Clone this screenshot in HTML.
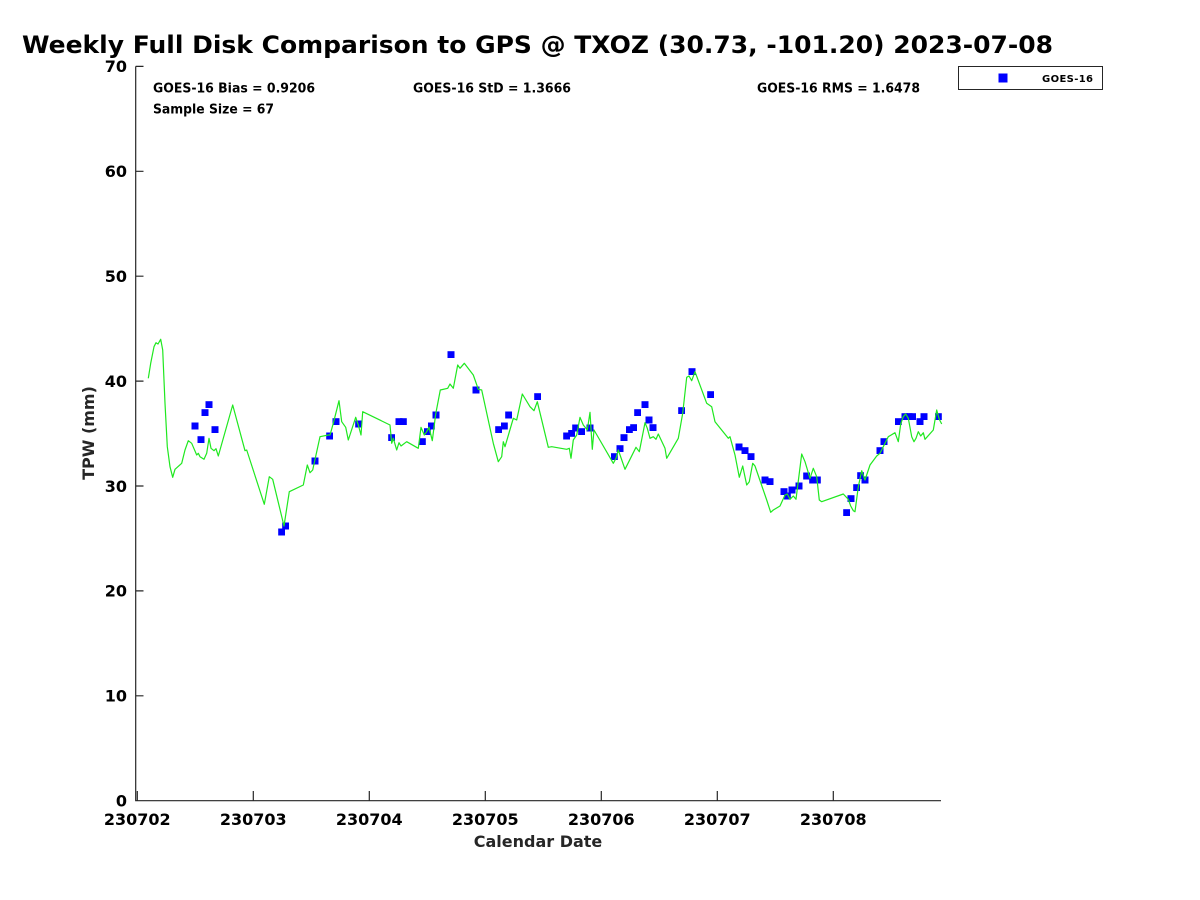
<!DOCTYPE html>
<html><head><meta charset="utf-8"><style>
html,body{margin:0;padding:0;background:#fff;}
svg{display:block;}
text{font-family:"DejaVu Sans","Liberation Sans",sans-serif;font-weight:bold;fill:#000;}
.tk{font-size:16px;fill:#262626;}
</style></head><body>
<svg width="1200" height="900" viewBox="0 0 1200 900" xmlns="http://www.w3.org/2000/svg">
<defs>
<marker id="sq" viewBox="0 0 7 7" refX="3.5" refY="3.5" markerWidth="7" markerHeight="7" markerUnits="userSpaceOnUse"><rect width="7" height="7" fill="#0000ff"/></marker>
</defs>
<rect width="1200" height="900" fill="#fff"/>
<text x="22" y="53" font-size="24" textLength="1031" lengthAdjust="spacingAndGlyphs">Weekly Full Disk Comparison to GPS @ TXOZ (30.73, -101.20) 2023-07-08</text>
<path fill="none" stroke="#262626" stroke-width="1.2" d="M135.7 66.4V800.7M135.1 800.7H941M135.7 695.8h7.8M135.7 590.9h7.8M135.7 486h7.8M135.7 381.1h7.8M135.7 276.2h7.8M135.7 171.3h7.8M135.7 66.4h7.8M137.3 800.7v-9.7M253.3 800.7v-9.7M369.3 800.7v-9.7M485.3 800.7v-9.7M601.3 800.7v-9.7M717.3 800.7v-9.7M833.3 800.7v-9.7"/>
<g class="tk" text-anchor="end">
<text x="127" y="806.5">0</text>
<text x="127" y="701.6">10</text>
<text x="127" y="596.7">20</text>
<text x="127" y="491.8">30</text>
<text x="127" y="386.9">40</text>
<text x="127" y="282">50</text>
<text x="127" y="177.1">60</text>
<text x="127" y="72.2">70</text>
</g>
<g class="tk" text-anchor="middle">
<text x="137.3" y="825">230702</text>
<text x="253.3" y="825">230703</text>
<text x="369.3" y="825">230704</text>
<text x="485.3" y="825">230705</text>
<text x="601.3" y="825">230706</text>
<text x="717.3" y="825">230707</text>
<text x="833.3" y="825">230708</text>
</g>
<text class="tk" x="538" y="847" text-anchor="middle">Calendar Date</text>
<text class="tk" transform="translate(94,433) rotate(-90)" text-anchor="middle">TPW (mm)</text>
<g font-size="13">
<text x="153" y="92.5" textLength="162" lengthAdjust="spacingAndGlyphs">GOES-16 Bias = 0.9206</text>
<text x="413" y="92.5" textLength="158" lengthAdjust="spacingAndGlyphs">GOES-16 StD = 1.3666</text>
<text x="757" y="92.5" textLength="163" lengthAdjust="spacingAndGlyphs">GOES-16 RMS = 1.6478</text>
<text x="153" y="113.5" textLength="121" lengthAdjust="spacingAndGlyphs">Sample Size = 67</text>
</g>
<rect x="958.5" y="66.5" width="144" height="23" fill="#fff" stroke="#262626" stroke-width="1"/>
<rect x="998.5" y="73.5" width="9" height="9" fill="#0000ff"/>
<text x="1042" y="82" font-size="10" textLength="51" lengthAdjust="spacing">GOES-16</text>
<polyline fill="none" stroke="none" marker-start="url(#sq)" marker-mid="url(#sq)" marker-end="url(#sq)" points="195,426 201,439.7 205,412.7 209,404.7 215,429.7 281.7,532 285.7,526 315,461 329.7,436 336,421.7 358.7,424 391.7,437.7 399,421.7 403.3,421.7 422.3,441.7 427.3,431.7 431.3,426 436,415 451,354.7 476,390 498.7,429.7 504.3,426 508.7,415 537.7,396.7 566.7,436 571.7,433.3 575.7,428 581.7,431.7 590,428 614.3,456.7 620,448.7 624,437.7 629.3,429.7 633.7,427.7 637.7,412.7 645,404.7 649,420 653,427.7 681.7,410.7 692,371.7 710.7,394.7 739,447 745,450.7 751,456.7 765,480 770,481.7 784,491.7 787.3,496 792,490 799,486 806.7,476 812.7,480 817.3,480 846.7,512.7 851,498.7 856.7,487.7 860.7,475.7 865,480 880,450.7 884,441.7 898.3,421.7 905,416.7 909,416.7 912.7,416.7 920,421.7 924,416.7 938.3,416.7"/>
<polyline fill="none" stroke="#1fe81f" stroke-width="1.2" stroke-linejoin="round" points="148.3,378.3 150.7,363.3 154,346.7 156,342.7 158,344 160.7,339.3 162.7,350 165,403.3 167.3,446.7 170,466.7 172.7,477.3 175,469.3 181.7,463.3 185,450 188.3,440.7 191.7,443.3 196.7,455 198.3,453.3 200,456.7 204,459.3 206.7,453.3 209,438.3 211,448.3 214,450.7 216,448.7 218.3,456 232.7,405 245,450.7 246.7,450 264.3,504.3 269.3,476.7 272.7,479.3 284,526 289.3,491.7 303.3,485 307.3,465 310,472.7 312.7,470 320,436.7 328.3,435 330,435 333.3,423.3 339,400.7 341.7,421.7 345.7,427.3 348.3,440 355.7,417.3 358.3,425 361,435 362.7,411.7 390,425 391.7,443.3 393.3,438.3 396.7,450 399,442.7 401,446 406.7,441.7 418.3,448.3 421,427.3 424.3,435 426.7,431.7 429,427.3 432.3,440.7 435.7,414 440.3,390 447.7,388.3 450,384 453.3,388.3 457.7,365 460,368.3 464.3,363.3 473.3,375 478.3,389.3 481.7,390 493.3,443.3 498.3,461.7 501.7,456.7 503.3,441.7 505,446.7 513.3,418.3 516.7,420 522.3,394 530,406.7 534,410.7 537.3,401.7 548.3,447.3 551.7,446.7 566.7,449.3 569.3,448.3 571,458.3 573.3,440 576.7,435 580,417.3 583.3,425 587.3,430 590,412.3 592.3,449.3 594,430 613.3,463.3 616,458.3 618.3,450 625,469.3 630,459.3 636,447.3 639.3,451.7 645,422.7 647.3,428.3 650,438.3 653.3,436.7 656,439.3 658.3,434 665,448.3 666.7,458.3 678.3,438.3 682.7,413.3 686.7,377.3 689,376 691.7,380.7 695,371.7 706.7,403.3 711.7,406.7 715,421.7 728.3,438.3 730,436.7 735,455 739.3,477.3 742.7,466 746.7,485 749.3,481.7 752.7,463.3 755,466 766.7,500 770.7,512.3 773.3,510 780,506 785,495 787.3,494 790,499.3 793.3,496 796,499.3 801.7,454 805,461.7 810,478.3 813.3,468.3 816.7,476.7 819.3,500 821.7,501.7 843.3,494 848.3,499.3 850.7,506 853.3,510.7 855,511.7 858.3,486.7 861.7,470.7 865,480 870,465 876.7,456 880,453.3 883.3,446.7 888.3,436.7 895,432.7 898.3,441.7 900.7,424 903.3,416.7 905.7,414 908.3,418.3 911.7,436.7 914,441.7 916,438.3 918.3,431.7 920.7,436 923.3,432.7 925,439.3 933.3,430 936.7,410 939.3,419.3 941.7,424"/>
</svg>
</body></html>
